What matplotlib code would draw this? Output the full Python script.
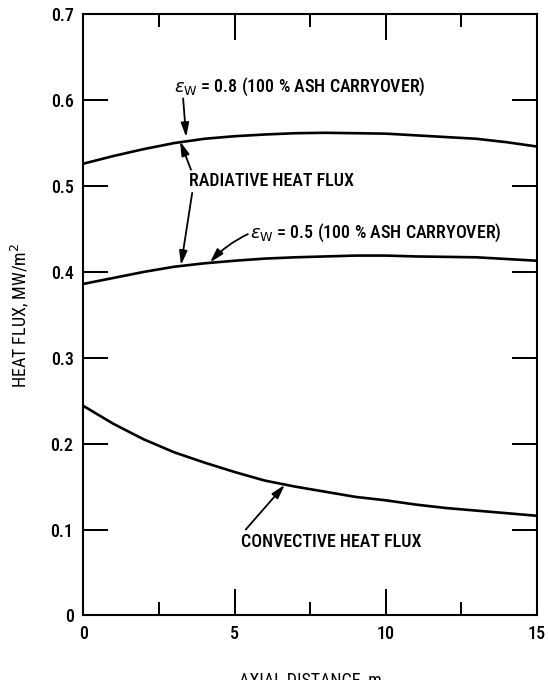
import matplotlib
matplotlib.use("Agg")
import matplotlib.pyplot as plt

# ---- data ----
x_e08 = [0, 1, 2, 3, 4, 5, 6, 7, 8, 9, 10, 11, 12, 13, 14, 15]
y_e08 = [0.526, 0.535, 0.543, 0.550, 0.555, 0.558, 0.560, 0.5615, 0.562, 0.5615,
         0.561, 0.559, 0.557, 0.555, 0.551, 0.546]

x_e05 = [0, 1, 2, 3, 4, 5, 6, 7, 8, 9, 10, 11, 12, 13, 14, 15]
y_e05 = [0.386, 0.393, 0.400, 0.406, 0.410, 0.413, 0.4155, 0.417, 0.418, 0.419,
         0.419, 0.418, 0.4175, 0.417, 0.415, 0.413]

x_conv = [0, 1, 2, 3, 4, 5, 6, 7, 8, 9, 10, 11, 12, 13, 14, 15]
y_conv = [0.244, 0.223, 0.205, 0.190, 0.178, 0.167, 0.157, 0.150, 0.144, 0.138,
          0.134, 0.129, 0.125, 0.122, 0.119, 0.116]

x_major = [0, 5, 10, 15]
x_minor = [2.5, 7.5, 12.5]
y_major = [0, 0.1, 0.2, 0.3, 0.4, 0.5, 0.6, 0.7]
y_labels = ["0", "0.1", "0.2", "0.3", "0.4", "0.5", "0.6", "0.7"]

plt.rcParams["font.family"] = ["Roboto Condensed", "DejaVu Sans"]
plt.rcParams["font.weight"] = "medium"

fig = plt.figure(figsize=(5.48, 6.8), dpi=100)
ax = fig.add_axes([0.152, 0.095, 0.828, 0.884])

lw = 1.9
for xs, ys in [(x_e08, y_e08), (x_e05, y_e05), (x_conv, y_conv)]:
    ax.plot(xs, ys, color="black", lw=lw, solid_joinstyle="round")

XMIN, XMAX, YMIN, YMAX = 0, 15, 0, 0.7
ax.set_xlim(XMIN, XMAX)
ax.set_ylim(YMIN, YMAX)
ax.set_xticks(x_major)
ax.set_xticks(x_minor, minor=True)
ax.set_yticks(y_major)
ax.set_yticklabels(y_labels)
for s in ax.spines.values():
    s.set_linewidth(1.5)
ax.tick_params(axis="both", which="both", direction="in", top=True, right=True,
               labelsize=13, pad=7, width=1.4, color="black")
ax.tick_params(axis="x", which="major", length=19)
ax.tick_params(axis="x", which="minor", length=9.5)
ax.tick_params(axis="y", which="major", length=18)

# backup inward tick marks, lengths converted from pixels to data units
fw = 0.828 * 548
fh = 0.884 * 680
dyL = (YMAX - YMIN) * 26 / fh
dyS = (YMAX - YMIN) * 13 / fh
dx = (XMAX - XMIN) * 25 / fw
tk = dict(colors="black", linewidth=1.4, zorder=5, clip_on=False)
ax.vlines(x_major[1:-1], YMIN, YMIN + dyL, **tk)
ax.vlines(x_major[1:-1], YMAX - dyL, YMAX, **tk)
ax.vlines(x_minor, YMIN, YMIN + dyS, **tk)
ax.vlines(x_minor, YMAX - dyS, YMAX, **tk)
ax.hlines(y_major[1:-1], XMIN, XMIN + dx, **tk)
ax.hlines(y_major[1:-1], XMAX - dx, XMAX, **tk)

ax.set_xlabel("AXIAL DISTANCE, m", fontsize=13, labelpad=20)
ax.set_ylabel("HEAT FLUX, MW/m$^2$", fontsize=13, labelpad=14)

tfs = 13
arr = dict(arrowstyle="-|>,head_length=0.7,head_width=0.2", color="black",
           lw=1.3, mutation_scale=12, shrinkA=0, shrinkB=0)

ax.text(3.0, 0.616, r"$\epsilon_{\rm W}$ = 0.8 (100 % ASH CARRYOVER)", fontsize=tfs,
        va="center", ha="left")
ax.annotate("", xy=(3.4, 0.557), xytext=(3.3, 0.602), arrowprops=arr)

ax.text(3.5, 0.506, "RADIATIVE HEAT FLUX", fontsize=tfs, va="center", ha="left")
ax.annotate("", xy=(3.2, 0.552), xytext=(3.56, 0.519), arrowprops=arr)
ax.annotate("", xy=(3.23, 0.408), xytext=(3.6, 0.492), arrowprops=arr)

ax.text(5.5, 0.445, r"$\epsilon_{\rm W}$ = 0.5 (100 % ASH CARRYOVER)", fontsize=tfs,
        va="center", ha="left")
ax.annotate("", xy=(4.19, 0.411), xytext=(5.44, 0.444),
            arrowprops=dict(arr, connectionstyle="arc3,rad=0.1"))

ax.text(5.2, 0.086, "CONVECTIVE HEAT FLUX", fontsize=tfs, va="center", ha="left")
ax.annotate("", xy=(6.66, 0.152), xytext=(5.37, 0.1), arrowprops=arr)

fig.savefig("out.png", dpi=100)
